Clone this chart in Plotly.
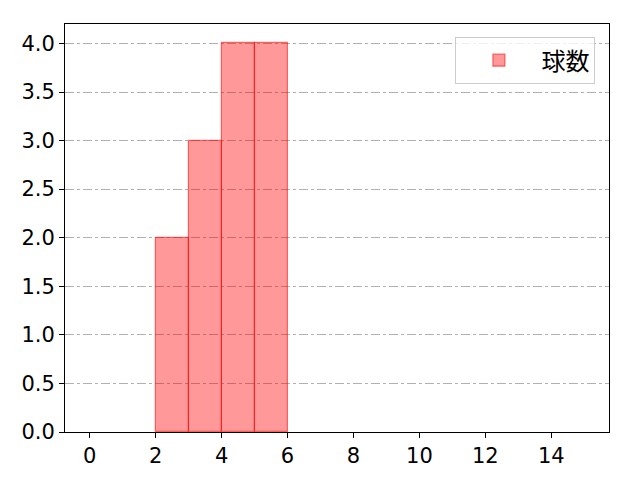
import plotly.graph_objects as go

bin_left = [2, 3, 4, 5]
counts = [2, 3, 4, 4]
series_name = "球数"
x_ticks = [0, 2, 4, 6, 8, 10, 12, 14]
y_ticks = [0.0, 0.5, 1.0, 1.5, 2.0, 2.5, 3.0, 3.5, 4.0]

fig = go.Figure()
fig.add_trace(go.Bar(
    x=[b + 0.5 for b in bin_left],
    y=counts,
    width=1,
    name=series_name,
    marker=dict(color="rgba(255,0,0,0.4)", line=dict(color="rgba(255,0,0,0.55)", width=1.2)),
    showlegend=True,
))

font = "DejaVu Sans, Noto Sans CJK JP, sans-serif"
fig.update_layout(
    width=640, height=480,
    margin=dict(l=57, r=39, t=16, b=56),
    paper_bgcolor="white", plot_bgcolor="white",
    font=dict(family=font, size=21, color="black"),
    bargap=0,
    showlegend=True,
    legend=dict(
        x=0.975, y=0.968, xanchor="right", yanchor="top",
        bgcolor="rgba(255,255,255,0.8)", bordercolor="#cccccc", borderwidth=1,
        font=dict(family="Noto Sans CJK JP, sans-serif", size=24), itemwidth=75,
    ),
    xaxis=dict(
        range=[-0.75, 15.75], tickvals=x_ticks, ticktext=[str(v) for v in x_ticks],
        showgrid=False, zeroline=False, showline=True, linecolor="black", linewidth=1,
        mirror=True, ticks="outside", ticklen=5, tickcolor="black",
    ),
    yaxis=dict(
        range=[0, 4.2], tickvals=y_ticks, ticktext=[f"{v:.1f}" for v in y_ticks],
        showgrid=True, gridcolor="#b0b0b0", griddash="dashdot", gridwidth=1,
        zeroline=False, showline=True, linecolor="black", linewidth=1,
        mirror=True, ticks="outside", ticklen=5, tickcolor="black",
    ),
)
fig.write_html("out.html")
